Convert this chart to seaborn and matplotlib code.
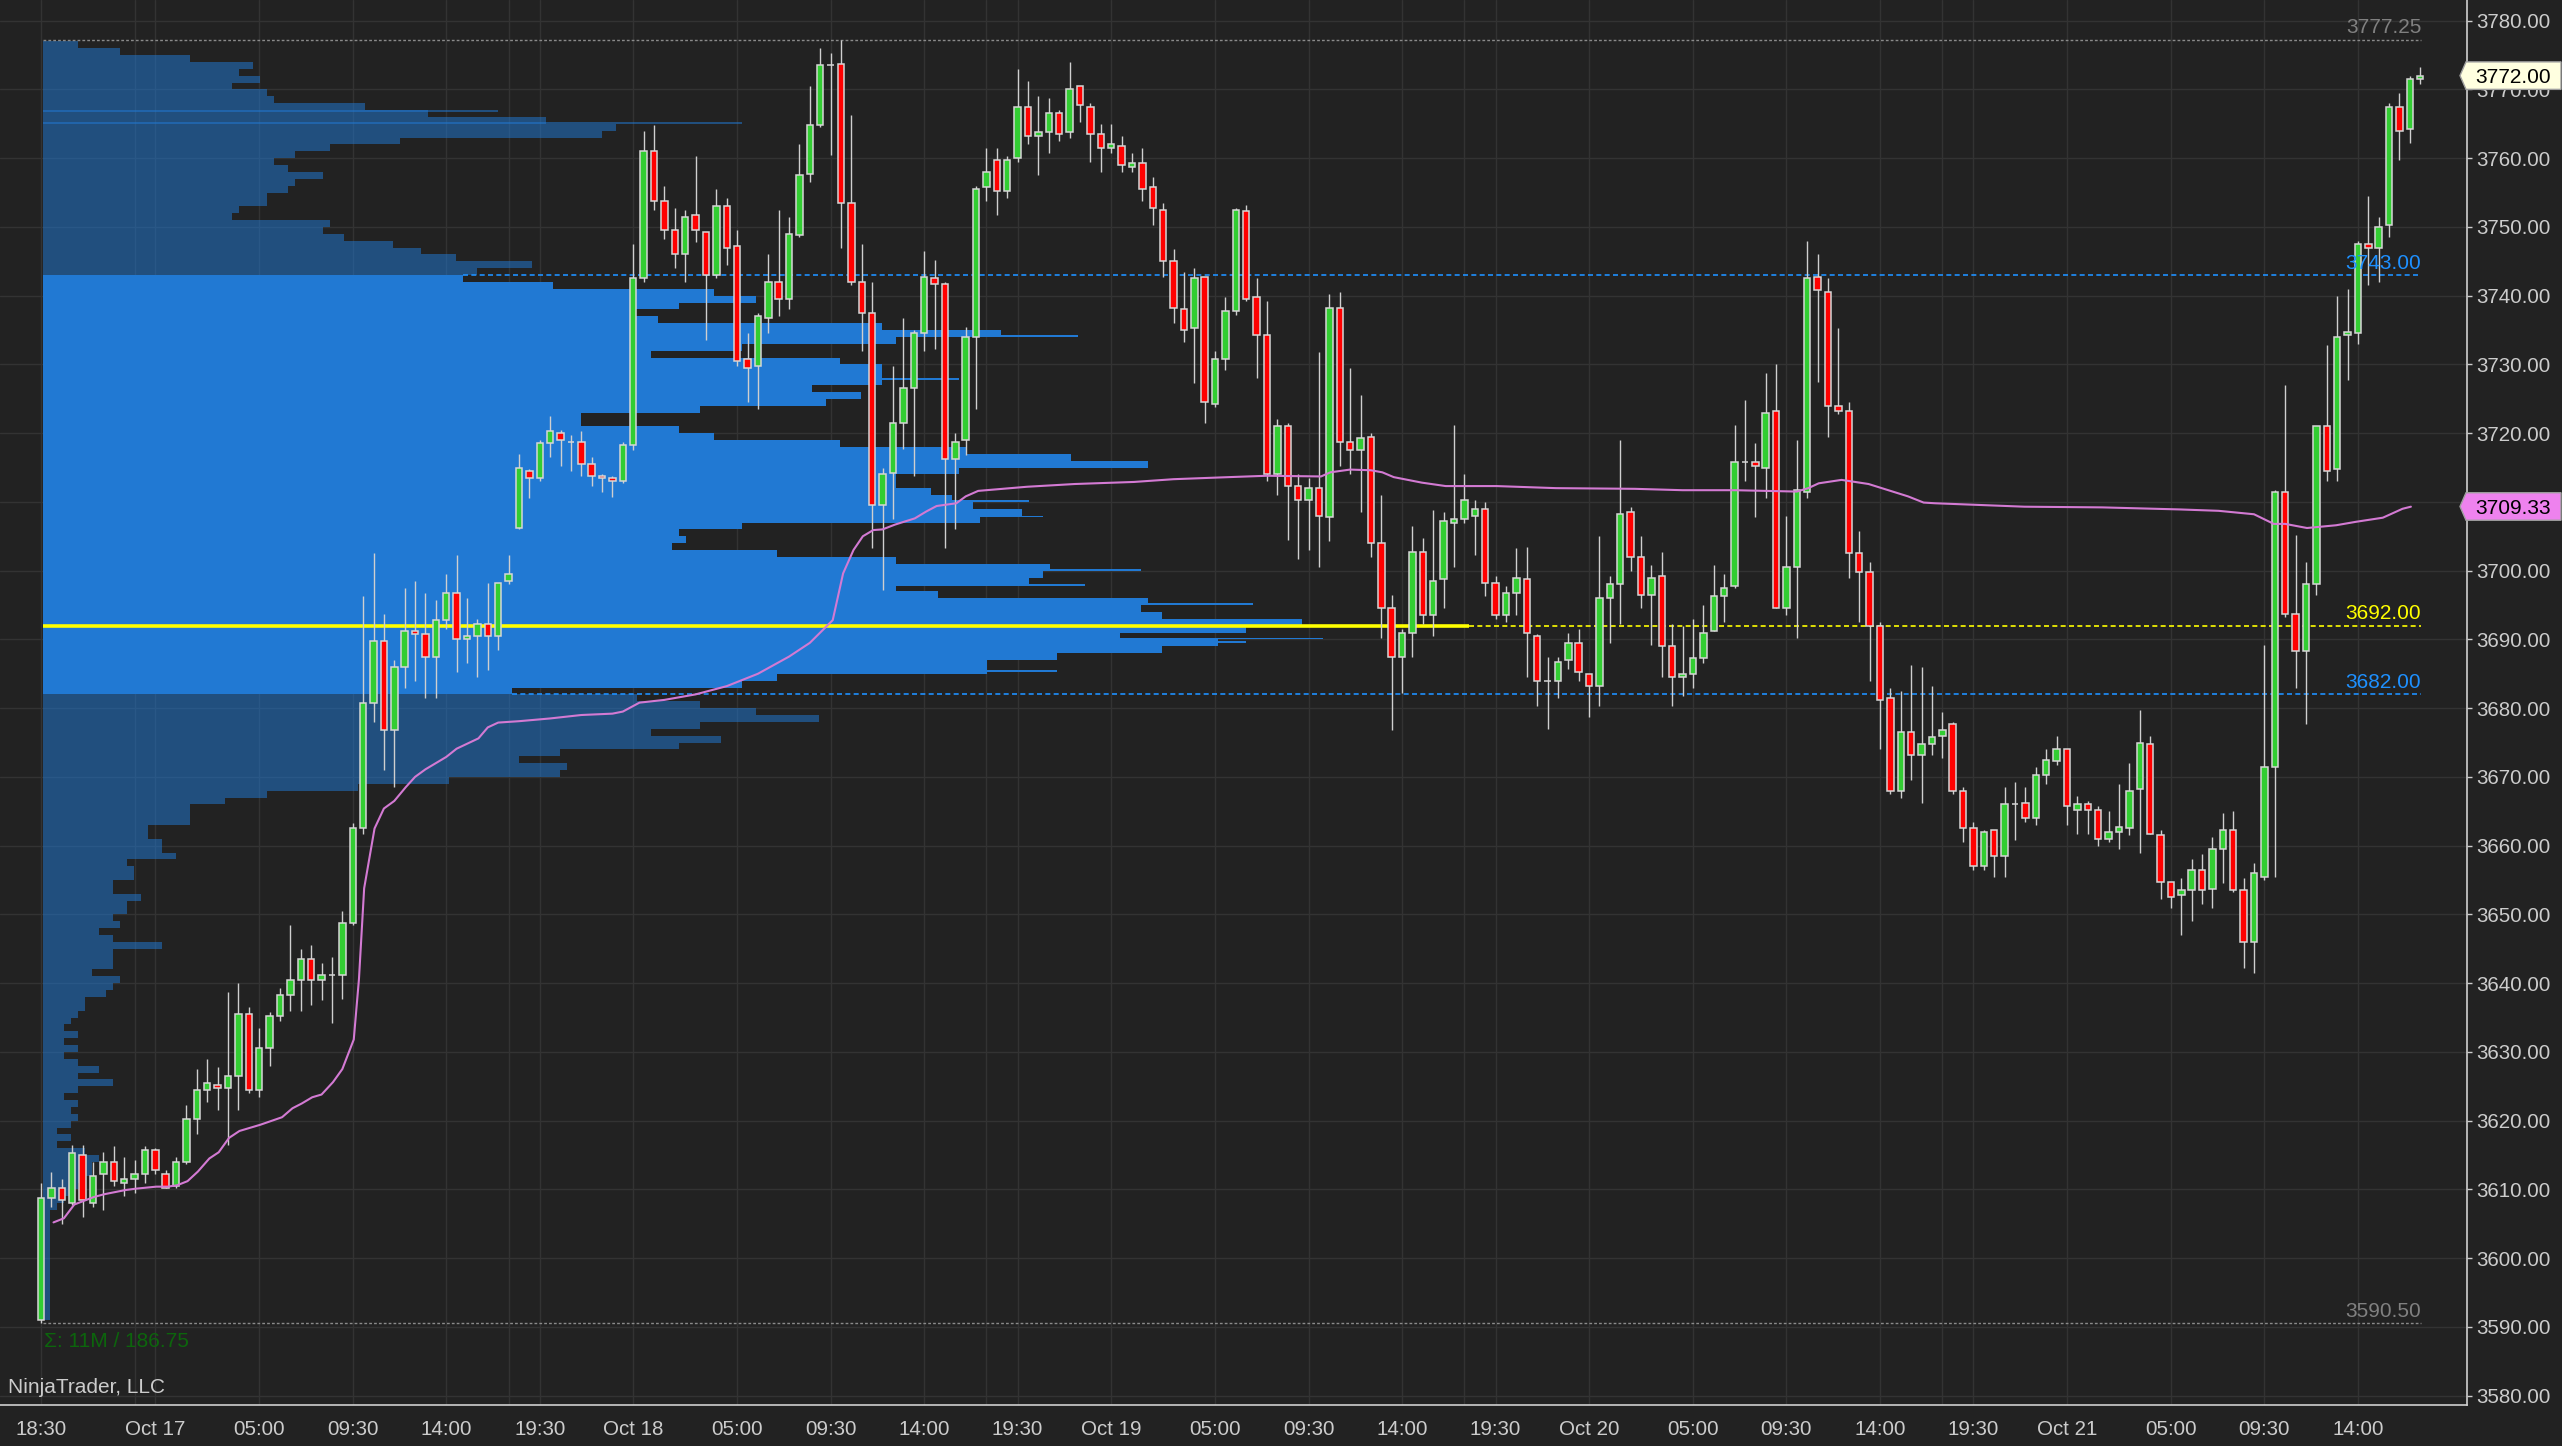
import numpy as np
import pandas as pd
import seaborn as sns
import matplotlib.pyplot as plt
from matplotlib.patches import Polygon
from matplotlib.transforms import blended_transform_factory

# ES 30-minute bars, Oct 16 18:30 -> Oct 21 17:00 (x axis = bar index)
opens = [
    3591.0, 3608.75, 3610.25, 3608.0, 3615.0, 3608.0, 3612.25, 3614.0, 3611.0, 3611.5,
    3612.25, 3615.75, 3612.25, 3610.5, 3614.0, 3620.25, 3624.5, 3625.25, 3624.75, 3626.5,
    3635.5, 3624.5, 3630.5, 3635.25, 3638.25, 3640.5, 3643.5, 3640.5, 3641.25, 3641.25,
    3648.75, 3662.5, 3680.75, 3689.75, 3676.75, 3686.0, 3691.25, 3690.75, 3687.5, 3692.75,
    3696.75, 3690.0, 3690.5, 3692.25, 3690.5, 3698.5, 3706.25, 3714.5, 3713.5, 3718.5,
    3720.0, 3718.75, 3718.75, 3715.5, 3713.75, 3713.5, 3713.0, 3718.25, 3742.5, 3761.0,
    3753.75, 3749.5, 3746.0, 3751.75, 3749.25, 3743.0, 3753.0, 3747.25, 3730.75, 3729.75,
    3736.75, 3742.0, 3739.5, 3748.75, 3757.75, 3764.75, 3773.5, 3773.75, 3753.5, 3742.0,
    3737.5, 3709.5, 3714.25, 3721.5, 3726.5, 3734.5, 3742.5, 3741.75, 3716.25, 3719.0,
    3734.0, 3755.75, 3759.75, 3755.25, 3760.0, 3767.5, 3763.25, 3763.75, 3766.5, 3763.75,
    3770.5, 3767.5, 3763.5, 3761.5, 3761.75, 3758.75, 3759.25, 3755.75, 3752.5, 3745.0,
    3738.0, 3735.25, 3742.75, 3724.25, 3730.75, 3737.75, 3752.25, 3739.75, 3734.25, 3714.0,
    3721.0, 3712.25, 3710.25, 3712.0, 3707.75, 3738.25, 3718.75, 3717.5, 3719.5, 3704.0,
    3694.5, 3687.5, 3691.0, 3702.75, 3693.5, 3698.75, 3707.0, 3707.5, 3708.0, 3709.0,
    3698.25, 3693.5, 3696.75, 3698.75, 3690.5, 3684.0, 3684.0, 3687.0, 3689.5, 3685.0,
    3683.25, 3696.0, 3698.0, 3708.5, 3702.0, 3696.5, 3699.25, 3689.0, 3684.5, 3685.0,
    3687.25, 3691.25, 3696.25, 3697.75, 3715.75, 3715.75, 3715.0, 3723.25, 3694.5, 3700.5,
    3711.5, 3742.75, 3740.5, 3724.0, 3723.25, 3702.5, 3699.75, 3692.0, 3681.5, 3668.0,
    3676.5, 3673.25, 3674.75, 3676.0, 3677.75, 3668.0, 3662.5, 3657.0, 3662.25, 3658.5,
    3666.0, 3666.25, 3664.0, 3670.25, 3672.25, 3674.0, 3665.25, 3666.0, 3665.25, 3661.0,
    3662.0, 3662.5, 3668.25, 3674.75, 3661.5, 3654.75, 3652.75, 3653.5, 3656.5, 3653.75,
    3659.5, 3662.25, 3653.5, 3646.0, 3655.5, 3671.5, 3711.5, 3693.75, 3688.25, 3698.0,
    3721.0, 3714.75, 3734.25, 3734.5, 3747.5, 3747.0, 3750.25, 3767.5, 3764.25, 3771.5,
]
highs = [
    3611.0, 3612.5, 3611.5, 3616.5, 3616.5, 3614.0, 3615.5, 3616.25, 3614.75, 3614.25,
    3616.25, 3616.0, 3612.75, 3614.75, 3622.25, 3627.5, 3629.0, 3627.75, 3638.75, 3640.0,
    3636.5, 3633.5, 3635.75, 3639.25, 3648.5, 3645.0, 3645.5, 3643.0, 3643.75, 3650.5,
    3663.25, 3696.25, 3702.5, 3693.75, 3687.0, 3697.5, 3698.5, 3696.75, 3695.75, 3699.5,
    3702.25, 3696.0, 3693.0, 3698.25, 3698.25, 3702.25, 3717.0, 3714.75, 3719.0, 3722.5,
    3720.5, 3719.75, 3720.25, 3716.5, 3714.0, 3713.75, 3718.75, 3747.5, 3764.0, 3764.75,
    3756.0, 3752.75, 3752.5, 3760.25, 3749.25, 3755.5, 3754.25, 3749.5, 3734.5, 3737.5,
    3746.0, 3752.5, 3751.5, 3762.0, 3770.5, 3776.0, 3775.25, 3777.25, 3766.25, 3747.5,
    3742.0, 3715.0, 3729.75, 3736.75, 3735.0, 3746.5, 3745.25, 3742.0, 3720.0, 3735.5,
    3756.0, 3761.5, 3761.5, 3760.25, 3773.0, 3771.25, 3769.0, 3768.75, 3767.0, 3774.0,
    3770.5, 3768.0, 3765.0, 3765.0, 3763.25, 3760.75, 3761.5, 3757.25, 3753.5, 3746.75,
    3743.5, 3744.0, 3742.75, 3732.0, 3739.75, 3752.75, 3753.25, 3742.5, 3739.25, 3722.0,
    3721.5, 3714.0, 3713.5, 3731.75, 3740.25, 3740.5, 3729.5, 3725.5, 3720.0, 3711.0,
    3696.5, 3691.5, 3706.5, 3704.75, 3708.75, 3708.5, 3721.25, 3714.0, 3710.25, 3710.0,
    3699.25, 3697.75, 3703.25, 3703.5, 3690.75, 3687.5, 3687.5, 3691.0, 3691.5, 3685.0,
    3705.0, 3699.25, 3719.0, 3709.25, 3705.0, 3700.75, 3702.75, 3692.25, 3692.0, 3693.0,
    3695.0, 3700.75, 3699.5, 3721.25, 3724.75, 3718.5, 3728.75, 3730.0, 3708.0, 3719.0,
    3748.0, 3746.0, 3742.5, 3735.25, 3724.5, 3705.75, 3701.25, 3692.5, 3683.0, 3682.5,
    3686.25, 3686.0, 3683.25, 3679.5, 3678.0, 3668.5, 3663.5, 3662.25, 3662.25, 3668.5,
    3669.25, 3668.5, 3671.5, 3674.0, 3676.0, 3674.0, 3667.25, 3666.5, 3665.75, 3665.0,
    3669.0, 3672.0, 3679.75, 3676.0, 3662.25, 3654.75, 3655.25, 3658.0, 3658.75, 3661.25,
    3664.75, 3665.0, 3655.25, 3657.5, 3689.25, 3711.75, 3727.0, 3705.25, 3701.25, 3721.0,
    3732.75, 3740.0, 3741.0, 3748.0, 3754.5, 3751.5, 3768.0, 3769.5, 3772.0, 3773.25,
]
lows = [
    3590.5, 3607.5, 3605.0, 3607.75, 3606.0, 3607.5, 3607.0, 3610.5, 3609.0, 3609.5,
    3611.0, 3612.25, 3610.25, 3610.25, 3613.75, 3618.0, 3622.75, 3621.5, 3616.5, 3621.5,
    3624.0, 3623.5, 3628.0, 3634.5, 3636.0, 3636.0, 3636.75, 3637.5, 3634.25, 3637.75,
    3648.5, 3661.75, 3678.0, 3671.0, 3668.5, 3683.0, 3684.0, 3681.5, 3681.5, 3691.5,
    3685.25, 3686.5, 3684.5, 3685.5, 3688.5, 3698.0, 3706.0, 3710.5, 3713.0, 3716.5,
    3715.25, 3714.5, 3713.75, 3712.25, 3711.5, 3710.75, 3712.75, 3717.5, 3742.0, 3752.5,
    3748.25, 3744.0, 3742.0, 3747.75, 3733.5, 3742.5, 3744.5, 3729.75, 3724.5, 3723.5,
    3734.5, 3737.0, 3738.0, 3748.5, 3756.5, 3764.5, 3760.5, 3747.0, 3741.5, 3732.0,
    3703.25, 3697.25, 3707.5, 3717.75, 3713.75, 3732.0, 3732.25, 3703.25, 3706.0, 3716.75,
    3723.5, 3753.75, 3751.75, 3754.25, 3759.5, 3762.0, 3757.5, 3760.75, 3762.5, 3763.0,
    3765.25, 3759.5, 3758.0, 3760.75, 3758.0, 3758.0, 3753.75, 3750.25, 3742.75, 3736.0,
    3733.25, 3727.25, 3721.5, 3723.75, 3729.25, 3737.25, 3739.25, 3728.0, 3713.0, 3711.0,
    3704.5, 3701.75, 3703.0, 3700.5, 3704.25, 3715.25, 3714.0, 3708.5, 3702.0, 3690.25,
    3676.75, 3682.25, 3687.5, 3692.25, 3690.5, 3694.5, 3700.5, 3707.0, 3702.25, 3696.25,
    3693.0, 3692.5, 3693.5, 3684.5, 3680.25, 3677.0, 3681.5, 3685.75, 3684.0, 3678.75,
    3680.25, 3689.5, 3692.25, 3700.0, 3694.5, 3689.25, 3684.5, 3680.25, 3681.75, 3683.0,
    3686.5, 3691.25, 3692.5, 3697.5, 3713.0, 3707.75, 3710.5, 3694.5, 3693.5, 3690.25,
    3710.5, 3727.5, 3719.5, 3722.75, 3699.0, 3692.5, 3684.0, 3674.0, 3667.5, 3667.0,
    3669.5, 3666.25, 3673.25, 3672.75, 3667.5, 3660.5, 3656.5, 3656.5, 3655.5, 3655.5,
    3660.75, 3663.5, 3663.0, 3669.0, 3671.75, 3663.0, 3661.75, 3661.75, 3660.0, 3660.5,
    3659.5, 3661.5, 3659.0, 3661.75, 3652.25, 3651.0, 3647.0, 3649.0, 3651.5, 3651.0,
    3654.5, 3653.25, 3642.25, 3641.5, 3655.0, 3655.5, 3693.25, 3683.0, 3677.75, 3696.5,
    3713.0, 3713.0, 3727.75, 3733.0, 3741.5, 3742.0, 3748.5, 3759.75, 3762.25, 3770.75,
]
closes = [
    3608.75, 3610.25, 3608.5, 3615.25, 3608.5, 3612.0, 3614.0, 3611.25, 3611.5, 3612.25,
    3615.75, 3612.75, 3610.25, 3614.0, 3620.25, 3624.5, 3625.5, 3624.75, 3626.5, 3635.5,
    3624.5, 3630.5, 3635.25, 3638.25, 3640.5, 3643.5, 3640.5, 3641.25, 3641.25, 3648.75,
    3662.5, 3680.75, 3689.75, 3676.75, 3686.0, 3691.25, 3690.75, 3687.5, 3692.75, 3696.75,
    3690.0, 3690.5, 3692.25, 3690.5, 3698.25, 3699.5, 3715.0, 3713.5, 3718.5, 3720.25,
    3719.0, 3718.75, 3715.5, 3713.75, 3713.5, 3713.0, 3718.25, 3742.5, 3761.0, 3753.75,
    3749.5, 3746.0, 3751.5, 3749.5, 3743.0, 3753.0, 3747.0, 3730.5, 3729.5, 3737.0,
    3742.0, 3739.5, 3749.0, 3757.5, 3764.75, 3773.5, 3773.5, 3753.5, 3742.0, 3737.5,
    3709.5, 3714.0, 3721.5, 3726.5, 3734.5, 3742.75, 3741.75, 3716.25, 3718.75, 3734.0,
    3755.5, 3758.0, 3755.25, 3759.75, 3767.5, 3763.25, 3763.75, 3766.5, 3763.5, 3770.0,
    3767.75, 3763.5, 3761.5, 3762.0, 3759.0, 3759.25, 3755.5, 3752.75, 3745.0, 3738.25,
    3735.0, 3742.5, 3724.5, 3730.75, 3737.75, 3752.5, 3739.5, 3734.25, 3714.0, 3721.0,
    3712.25, 3710.25, 3712.0, 3708.0, 3738.25, 3718.75, 3717.5, 3719.25, 3704.0, 3694.5,
    3687.5, 3691.0, 3702.75, 3693.5, 3698.5, 3707.25, 3707.5, 3710.25, 3709.0, 3698.25,
    3693.5, 3696.75, 3699.0, 3691.0, 3684.0, 3684.0, 3686.75, 3689.5, 3685.25, 3683.25,
    3696.0, 3698.0, 3708.25, 3702.0, 3696.5, 3699.0, 3689.0, 3684.5, 3685.0, 3687.25,
    3691.0, 3696.25, 3697.5, 3715.75, 3715.75, 3715.25, 3723.0, 3694.5, 3700.5, 3711.75,
    3742.5, 3740.75, 3724.0, 3723.25, 3702.5, 3699.75, 3692.0, 3681.25, 3668.0, 3676.5,
    3673.25, 3674.75, 3675.75, 3676.75, 3668.0, 3662.5, 3657.0, 3662.0, 3658.5, 3666.0,
    3666.0, 3664.0, 3670.25, 3672.5, 3674.0, 3665.75, 3666.0, 3665.25, 3661.0, 3662.0,
    3662.75, 3668.0, 3675.0, 3661.75, 3654.75, 3652.5, 3653.5, 3656.5, 3653.5, 3659.5,
    3662.25, 3653.5, 3646.0, 3656.0, 3671.5, 3711.5, 3693.75, 3688.25, 3698.0, 3721.0,
    3714.5, 3734.0, 3734.75, 3747.5, 3747.0, 3750.0, 3767.5, 3764.0, 3771.5, 3772.0,
]

# running VWAP (bar, price)
vwap_bar = [
    1.2, 2.2, 3.2, 5.1, 6.1, 8.1, 9.1, 11.1, 12.2, 13.1,
    14.1, 15.1, 16.2, 17.1, 18.1, 19.1, 21.1, 23.2, 24.2, 25.1,
    26.1, 27.0, 28.1, 29.0, 30.1, 30.6, 31.1, 32.1, 33.0, 34.0,
    35.1, 36.0, 37.0, 39.0, 40.0, 42.1, 43.0, 44.0, 46.0, 49.0,
    52.0, 55.0, 56.0, 57.6, 60.0, 63.0, 66.0, 69.0, 72.0, 74.0,
    76.2, 77.2, 78.2, 79.1, 80.1, 81.0, 82.2, 84.1, 85.2, 86.2,
    88.1, 89.0, 90.2, 94.9, 99.5, 105.2, 109.0, 114.3, 118.0, 123.2,
    124.1, 126.0, 128.0, 129.1, 130.2, 132.9, 135.2, 140.1, 145.8, 153.4,
    158.0, 163.0, 169.0, 170.1, 171.1, 173.3, 175.9, 179.7, 181.2, 182.3,
    190.9, 198.4, 205.9, 209.6, 213.0, 214.9, 216.0, 218.1, 220.9, 222.8,
    225.4, 227.3, 228.1,
]
vwap_price = [
    3605.2, 3605.8, 3607.8, 3608.9, 3609.3, 3609.9, 3610.1, 3610.4, 3610.4, 3610.6,
    3611.2, 3612.6, 3614.5, 3615.4, 3617.5, 3618.5, 3619.4, 3620.5, 3621.8, 3622.5,
    3623.4, 3623.8, 3625.6, 3627.5, 3631.8, 3640.6, 3653.8, 3662.5, 3665.4, 3666.5,
    3668.5, 3670.0, 3671.1, 3672.9, 3674.1, 3675.6, 3677.2, 3677.9, 3678.1, 3678.5,
    3679.0, 3679.2, 3679.5, 3680.8, 3681.2, 3682.0, 3683.2, 3685.0, 3687.5, 3689.5,
    3692.8, 3699.6, 3703.0, 3705.0, 3705.9, 3706.0, 3706.7, 3707.6, 3708.6, 3709.4,
    3709.8, 3710.8, 3711.6, 3712.2, 3712.6, 3712.9, 3713.3, 3713.6, 3713.8, 3713.7,
    3714.3, 3714.7, 3714.6, 3714.3, 3713.6, 3712.8, 3712.3, 3712.3, 3712.0, 3711.9,
    3711.7, 3711.7, 3711.5, 3712.0, 3712.7, 3713.2, 3712.6, 3710.8, 3709.9, 3709.8,
    3709.3, 3709.2, 3708.9, 3708.7, 3708.2, 3706.8, 3706.8, 3706.2, 3706.6, 3707.1,
    3707.7, 3709.0, 3709.3,
]

# volume profile, thousands of contracts per 1 point, from 3591 upward
profile_low = 3591
profile_vol = [
    1, 1, 1, 1, 1, 1, 1, 1, 1, 1,            # 3591
    1, 1, 1, 1, 1, 1, 2, 3, 4, 5,            # 3601
    6, 7, 7, 8, 6, 2, 4, 2, 4, 5,            # 3611
    4, 5, 3, 5, 10, 5, 8, 5, 3, 5,           # 3621
    3, 5, 3, 4, 5, 6, 6, 9, 10, 11,          # 3631
    7, 10, 10, 10, 17, 10, 8, 11, 10, 12,    # 3641
    12, 14, 10, 10, 13, 13, 12, 19, 17, 17,  # 3651
    15, 15, 21, 21, 21, 26, 32, 45, 58, 74,  # 3661
    75, 68, 74, 91, 97, 87, 94, 111, 102, 94,        # 3671
    85, 67, 100, 105, 135, 135, 145, 160, 168, 154,  # 3681
    172, 180, 160, 157, 158, 128, 122, 141, 143, 144,  # 3691
    122, 105, 90, 92, 91, 100, 134, 140, 133, 130,   # 3701
    127, 122, 122, 131, 158, 147, 132, 114, 96, 91,  # 3711
    77, 77, 94, 112, 117, 110, 120, 120, 120, 114,   # 3721
    87, 100, 122, 137, 120, 88, 84, 91, 102, 96,     # 3731
    73, 60, 62, 70, 59, 54, 50, 43, 40, 41,          # 3741
    27, 28, 32, 32, 35, 36, 40, 35, 33, 36,          # 3751
    41, 51, 80, 82, 72, 55, 46, 33, 32, 27,          # 3761
    31, 28, 30, 21, 11, 5,                           # 3771
]
# single-tick outliers standing out of the 1-point bins
spike_price = [3765.0, 3766.75, 3734.0, 3727.75, 3710.0, 3707.75, 3700.0, 3697.75,
               3695.0, 3691.75, 3690.0, 3689.5, 3685.25]
spike_vol = [100, 65, 148, 131, 141, 143, 157, 149, 173, 190, 183, 172, 145]

poc_price, poc_vol = 3692.00, 204
va_high, va_low = 3743.00, 3682.00
range_high, range_low = 3777.25, 3590.50
total_label = 'Σ: 11M / 186.75'
last_price, vwap_last = 3772.00, 3709.33

tick_bars = [0, 9, 11, 21, 30, 39, 48, 57, 67, 76, 85, 94, 103, 113, 122, 131,
             140, 149, 159, 168, 177, 186, 195, 205, 214, 223]
tick_labels = ['18:30', '', 'Oct 17', '05:00', '09:30', '14:00', '19:30', 'Oct 18',
               '05:00', '09:30', '14:00', '19:30', 'Oct 19', '05:00', '09:30', '14:00',
               '19:30', 'Oct 20', '05:00', '09:30', '14:00', '19:30', 'Oct 21',
               '05:00', '09:30', '14:00']
session_breaks = [45, 91, 137, 183]

df = pd.DataFrame({'open': opens, 'high': highs, 'low': lows, 'close': closes})
df['bar'] = np.arange(len(df))

BG = '#222222'
TXT = '#cccccc'
GRID = '#333333'
sns.set_theme(style='dark', rc={
    'axes.facecolor': BG, 'figure.facecolor': BG, 'axes.edgecolor': TXT,
    'text.color': TXT, 'xtick.color': TXT, 'ytick.color': TXT,
})
plt.rcParams['font.family'] = ['Liberation Sans', 'DejaVu Sans']

W, H = 2562, 1446
fig = plt.figure(figsize=(W / 100, H / 100), dpi=100)
ax = fig.add_axes([0, 41 / H, 2467 / W, 1405 / H])
ax.set_xlim(-3.95, 233.5)
ax.set_ylim(3578.64, 3783.0)

# grid
ax.set_xticks(tick_bars)
ax.set_xticklabels(tick_labels)
ax.set_yticks(np.arange(3580, 3781, 10))
ax.set_yticklabels([f'{v:.2f}' for v in np.arange(3580, 3781, 10)])
ax.grid(True, color=GRID, lw=1)
ax.set_axisbelow(True)
for b in session_breaks:
    ax.axvline(b, color=GRID, lw=1, zorder=0.5)

ax.yaxis.tick_right()
ax.tick_params(axis='y', direction='out', length=3.6, width=1, pad=3, labelsize=14.8, colors=TXT)
ax.tick_params(axis='x', direction='out', length=3.6, width=1, pad=7, labelsize=14.8, colors=TXT)
for s in ['top', 'left']:
    ax.spines[s].set_visible(False)
for s in ['right', 'bottom']:
    ax.spines[s].set_color('#d0d0d0')
    ax.spines[s].set_linewidth(1.2)

# volume profile
prof_left = 0.19
prof_span = 137.3
VA_BLUE = '#2179d3'
levels = np.arange(profile_low, profile_low + len(profile_vol))
vol = np.array(profile_vol, dtype=float)
widths = vol / poc_vol * prof_span
in_va = (levels >= va_low) & (levels < va_high)
ax.barh(levels[in_va], widths[in_va], left=prof_left, height=1.0, align='edge',
        color=VA_BLUE, linewidth=0, zorder=1)
ax.barh(levels[~in_va], widths[~in_va], left=prof_left, height=1.0, align='edge',
        color=VA_BLUE, alpha=0.52, linewidth=0, zorder=1)
sp = np.array(spike_price)
sp_w = np.array(spike_vol) / poc_vol * prof_span
sp_va = (sp >= va_low) & (sp < va_high)
ax.barh(sp[sp_va], sp_w[sp_va], left=prof_left, height=0.25, align='edge',
        color=VA_BLUE, linewidth=0, zorder=1)
ax.barh(sp[~sp_va], sp_w[~sp_va], left=prof_left, height=0.25, align='edge',
        color=VA_BLUE, alpha=0.52, linewidth=0, zorder=1)

end_bar = 229.1
lbl_fs = 15
# range lines
for p in (range_high, range_low):
    ax.hlines(p, prof_left, end_bar, colors='#8a8a8a', linestyles=(0, (2, 1.5)), lw=1.0, zorder=2)
    ax.text(end_bar, p + 0.9, f'{p:.2f}', ha='right', va='baseline', color='#808080', fontsize=lbl_fs, zorder=7)

# value area lines
va_hi_start = prof_left + widths[levels == va_high - 1][0]
va_lo_start = prof_left + widths[levels == va_low][0]
ax.hlines(va_high, va_hi_start, end_bar, colors='#1e90ff', linestyles=(0, (3, 2)), lw=1.2, zorder=2)
ax.hlines(va_low, va_lo_start, end_bar, colors='#1e90ff', linestyles=(0, (3, 2)), lw=1.2, zorder=2)
ax.text(end_bar, va_high + 0.9, f'{va_high:.2f}', ha='right', va='baseline', color='#1e90ff', fontsize=lbl_fs, zorder=7)
ax.text(end_bar, va_low + 0.9, f'{va_low:.2f}', ha='right', va='baseline', color='#1e90ff', fontsize=lbl_fs, zorder=7)

# point of control
poc_end = prof_left + prof_span
ax.hlines(poc_price, prof_left, poc_end, colors='#ffff00', lw=2.6, zorder=2.5)
ax.hlines(poc_price, poc_end, end_bar, colors='#ffff00', linestyles=(0, (3, 2)), lw=1.2, zorder=2)
ax.text(end_bar, poc_price + 0.9, f'{poc_price:.2f}', ha='right', va='baseline', color='#ffff00', fontsize=lbl_fs, zorder=7)

ax.text(prof_left + 0.1, 3587.1, total_label, ha='left', va='baseline', color='#0c650c', fontsize=lbl_fs, zorder=7)

# candles
up = df['close'] > df['open']
down = df['close'] < df['open']
body_col = np.where(up, '#32cd32', np.where(down, '#ff0000', '#d0d0d0'))
ax.vlines(df['bar'], df['low'], df['high'], colors='#cfcfcf', lw=1.0, zorder=4)
ax.bar(df['bar'], (df['close'] - df['open']).abs(), bottom=df[['open', 'close']].min(axis=1),
       width=0.62, color=body_col, edgecolor='#d6d6d6', linewidth=1.1, zorder=5)

# vwap
sns.lineplot(x=vwap_bar, y=vwap_price, ax=ax, color='#d37ad3', lw=1.5, zorder=6,
             sort=False, estimator=None, legend=False)
ax.set_xlabel('')
ax.set_ylabel('')

# price tags on the axis
trans = blended_transform_factory(fig.transFigure, ax.transData)


def price_tag(price, face):
    x0, x1, x2 = 2460 / W, 2466 / W, 2561 / W
    h = 2.0
    poly = Polygon([(x0, price), (x1, price + h), (x2, price + h), (x2, price - h), (x1, price - h)],
                   closed=True, transform=trans, facecolor=face, edgecolor='#a0a0a0', lw=1,
                   zorder=10, clip_on=False)
    fig.add_artist(poly)
    fig.text(2513 / W, price, f'{price:.2f}', transform=trans, ha='center', va='center_baseline',
             fontsize=lbl_fs, color='black', zorder=11)


price_tag(last_price, '#ffffe0')
price_tag(vwap_last, '#ee82ee')

fig.text(8 / W, 1 - 1393 / H, 'NinjaTrader, LLC', ha='left', va='baseline', fontsize=lbl_fs, color=TXT)

fig.savefig('out.png', dpi=100, facecolor=BG)
